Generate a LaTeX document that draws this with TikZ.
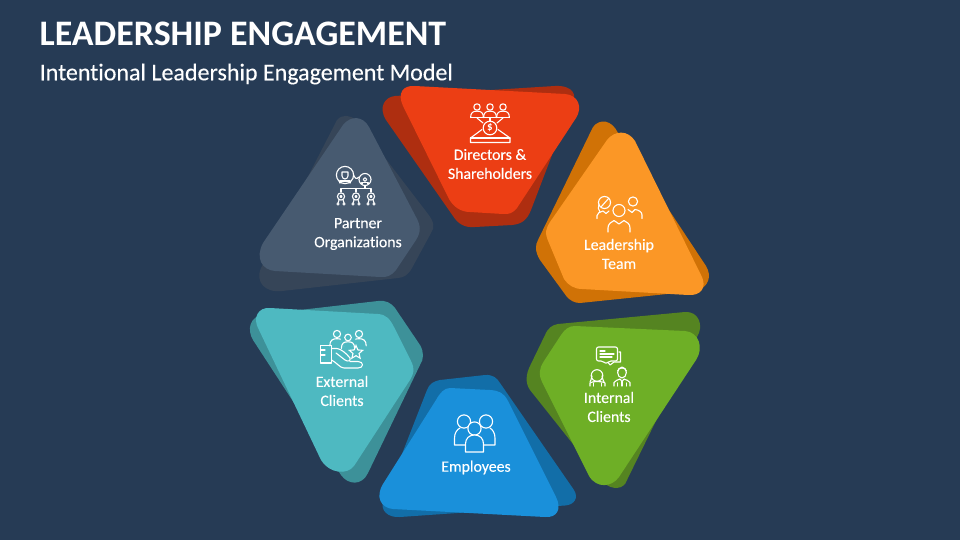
\documentclass[tikz,border=0pt]{standalone}
\usepackage{fontspec}
\setmainfont{Carlito}[Ligatures=CommonOff]
\newfontfamily\labelfont{Carlito}[Ligatures=CommonOff,FakeBold=0.2]
\usetikzlibrary{calc,positioning,shapes.geometric}

\definecolor{bgblue}{HTML}{263B55}
\definecolor{redfront}{HTML}{EC3E14}
\definecolor{redback}{HTML}{AE2E10}
\definecolor{orangefront}{HTML}{FB9726}
\definecolor{orangeback}{HTML}{D07206}
\definecolor{greenfront}{HTML}{6EAF26}
\definecolor{greenback}{HTML}{558421}
\definecolor{bluefront}{HTML}{1A90DA}
\definecolor{blueback}{HTML}{126EA8}
\definecolor{tealfront}{HTML}{4EB9C1}
\definecolor{tealback}{HTML}{3D9199}
\definecolor{grayfront}{HTML}{475A70}
\definecolor{grayback}{HTML}{364558}

\tikzset{
  petal_label/.style={text=white,align=center,inner sep=0pt,font=\fontsize{15.8}{19}\selectfont\labelfont},
  iconline/.style={draw=white,line width=1.1pt,line join=round,line cap=round},
  bust/.pic={
    \draw[iconline] (0,0) circle (1);
    \draw[iconline] (-2,3.3) .. controls (-2,1.7) and (-1.2,1.3) .. (0,1.3) .. controls (1.2,1.3) and (2,1.7) .. (2,3.3);
  },
}

\begin{document}
\begin{tikzpicture}[x=1pt,y=-1pt]

  \useasboundingbox (0,0) rectangle (960,540);
  \fill[bgblue] (0,0) rectangle (960,540);

  \node [anchor=west,text=white,inner sep=0pt,font=\fontsize{35.9}{38}\selectfont\bfseries] at (39.5,34) (title) {LEADERSHIP ENGAGEMENT};
  \node [anchor=west,text=white,inner sep=0pt,font=\fontsize{24}{26}\selectfont\labelfont] at (39.5,74) (subtitle) {Intentional Leadership Engagement Model};

  % back shapes
  \fill[redback] (395,96) -- (555,86) .. controls (572,85) and (580,95) .. (570,108) -- (531,210) .. controls (527,220) and (522,224) .. (512,225) -- (475,227) .. controls (465,228) and (458,224) .. (453,216) -- (386,120) .. controls (378,107) and (385,97) .. (395,96) -- cycle;
  \fill[orangeback] (593,127) .. controls (600,118) and (612,120) .. (618,133) -- (706,266) .. controls (712,276) and (709,287) .. (696,291) -- (580,303) .. controls (574,303) and (570,300) .. (567,297) -- (540,260) .. controls (535,252) and (535,245) .. (538,240) -- cycle;
  \fill[greenback] (558,324) -- (685,312) .. controls (699,311) and (704,326) .. (697,337) -- (627,480) .. controls (624,490) and (612,490) .. (604,483) -- (530,390) .. controls (525,383) and (526,374) .. (530,366) -- (545,335) .. controls (548,328) and (552,325) .. (558,324) -- cycle;
  \fill[blueback] (440,380) -- (485,375) .. controls (493,374.5) and (497,378) .. (500,383) -- (574,490) .. controls (579,498) and (574,505) .. (565,505.5) -- (400,517) .. controls (388,518) and (379,510) .. (384,500) -- (427,390) .. controls (429,384) and (434,381) .. (440,380) -- cycle;
  \fill[tealback] (265,314) -- (378,301) .. controls (386,300) and (391,303) .. (395,308) -- (420,345) .. controls (424,352) and (424,359) .. (420,365) -- (368,473) .. controls (362,486) and (348,485) .. (341,475) -- (253,340) .. controls (247,330) and (249,316) .. (265,314) -- cycle;
  \fill[grayback] (337,120) .. controls (342,114) and (350,115) .. (356,120) -- (428,214) .. controls (434,222) and (435,227) .. (431,233) -- (412,268) .. controls (408,275) and (404,277.5) .. (398,278) -- (282,291) .. controls (265,293) and (255,282) .. (261,268) -- cycle;

  % front shapes
  \fill[redfront] (415,86) -- (565,94) .. controls (578,95) and (583,107) .. (576,118) -- (517,208) .. controls (513,213) and (509,214.5) .. (503,214) -- (470,212) .. controls (460,212) and (453,206) .. (449,199) -- (403,106) .. controls (397,93) and (403,85) .. (415,86) -- cycle;
  \fill[orangefront] (607,140) .. controls (615,130) and (628,130) .. (635,141) -- (701,275) .. controls (708,288) and (700,296) .. (688,295) -- (582,289) .. controls (574,289) and (568,285) .. (564,279) -- (549,243) .. controls (544,232) and (546,229) .. (550,222) -- cycle;
  \fill[greenfront] (575,326) -- (685,331) .. controls (699,332) and (704,348) .. (696,360) -- (619,477) .. controls (612,487) and (597,489) .. (589,476) -- (543,384) .. controls (538,374) and (539,369) .. (544,361) -- (561,335) .. controls (565,329) and (569,326) .. (575,326) -- cycle;
  \fill[bluefront] (450,388) -- (490,390) .. controls (499,390.5) and (504,393) .. (508,401) -- (556,497) .. controls (562,509) and (557,518) .. (545,517) -- (393,509) .. controls (381,508) and (375,497) .. (383,484) -- (436,400) .. controls (440,393) and (444,388) .. (450,388) -- cycle;
  \fill[tealfront] (270,308) -- (378,314) .. controls (386,314.5) and (390,319) .. (394,327) -- (411,361) .. controls (415,369) and (414,373) .. (410,380) -- (354,466) .. controls (347,475) and (330,474) .. (321,460) -- (259,330) .. controls (252,318) and (258,307) .. (270,308) -- cycle;
  \fill[grayfront] (343,125) .. controls (351,115) and (363,116) .. (369,127) -- (416,217) .. controls (421,226) and (421,232) .. (416,240) -- (396,270) .. controls (391,276) and (387,277.5) .. (380,277) -- (275,271) .. controls (262,270) and (255,258) .. (263,243) -- cycle;

  % labels
  \node [petal_label] at (490,164) (label_directors) {Directors \&\\Shareholders};
  \node [petal_label] at (619,254) (label_leadership) {Leadership\\Team};
  \node [petal_label] at (358,234) (label_partner) {Partner\\Organizations};
  \node [petal_label] at (342,391) (label_external) {External\\Clients};
  \node [petal_label] at (476,467.5) (label_employees) {Employees};
  \node [petal_label] at (609,407) (label_internal) {Internal\\Clients};

  % directors icon
  \foreach \hx in {477,490,503} {
    \pic[scale=3.2] at (\hx,107) {bust};
    \draw[iconline] (\hx-6.4,117.5) -- (\hx+6.4,117.5);
  }
  \draw[iconline] (477,118) -- (483,123);
  \draw[iconline] (490,118) -- (490,121);
  \draw[iconline] (503,118) -- (497,123);
  \draw[iconline] (490,128) circle (6.8);
  \node [text=white,inner sep=0pt,font=\fontsize{11}{11}\selectfont\bfseries] at (490,128) (coin_sign) {\$};
  \draw[iconline] (482,129.5) -- (470.5,138) -- (470.5,142.5) -- (510,142.5) -- (510,138) -- (498,129.5);
  \draw[iconline] (470.5,138) -- (510,138);

  % leadership icon
  \draw[iconline] (619,210.5) circle (6);
  \draw[iconline] (608,232) -- (608,228) .. controls (608,224) and (611,222) .. (614,220.5) -- (619,224) -- (624,220.5) .. controls (627,222) and (630,224) .. (630,228) -- (630,232);
  \draw[iconline] (604.5,202.5) circle (6);
  \draw[iconline] (599,204) .. controls (598,207) and (598,210) .. (600,212);
  \draw[iconline] (601,207) -- (609,198);
  \draw[iconline] (597,218.5) -- (597,215.5) .. controls (597,213) and (600,212) .. (603,211) -- (606,213.5) -- (609,211);
  \draw[iconline] (633,201.5) circle (4.6);
  \draw[iconline] (628,209.5) -- (632,212.5) -- (635,209.5) .. controls (639,210) and (642,212) .. (642,215) -- (642,218.5);

  % partner icon
  \draw[iconline] (345,175) circle (8.6);
  \draw[iconline] (365,179.5) circle (6);
  \draw[iconline] (342,172) -- (348,172) -- (348,176) .. controls (348,178) and (346,179) .. (345,179) .. controls (344,179) and (342,178) .. (342,176) -- cycle;
  \draw[iconline] (340,183) -- (340,181) -- (350,181) -- (350,183);
  \draw[iconline] (353.5,175) .. controls (355,178) and (356,180) .. (359,177);
  \draw[iconline] (365,179.5) circle (1.8);
  \draw[iconline] (362,184) -- (362,182.5) -- (368,182.5) -- (368,184);
  \draw[iconline] (365,185.5) -- (365,188.5) -- (341,188.5) -- (341,192);
  \draw[iconline] (356,188.5) -- (356,192);
  \draw[iconline] (365,188.5) -- (371,188.5) -- (371,192);
  \foreach \px in {341,356,371} {
    \draw[iconline] (\px,196.5) circle (3.6);
    \draw[iconline] (\px,196.5) circle (1);
    \draw[iconline] (\px-2,200) -- (\px-3,203);
    \draw[iconline] (\px+2,200) -- (\px+3,203);
    \draw[iconline,line width=0.8pt] (\px-3,204) circle (1.2);
    \draw[iconline,line width=0.8pt] (\px+3,204) circle (1.2);
  }

  % external icon
  \foreach \px/\py in {337/334,359/334} {
    \pic[scale=3.6] at (\px,\py) {bust};
  }
  \fill[tealfront] (348,340) circle (7.5);
  \pic[scale=3.3] at (348,337.5) {bust};
  \node [draw=white,line width=1.1pt,fill=tealfront,star,star points=5,star point ratio=2.2,minimum size=14pt,inner sep=0pt] at (356,352.5) (ext_star) {};
  \draw[iconline] (320.5,345.5) rectangle (331.5,363);
  \draw[iconline] (320.5,350) -- (325,350);
  \draw[iconline] (320.5,355) -- (325,355);
  \draw[iconline] (331.5,348.5) -- (337,348.5) .. controls (341,349) and (346,353) .. (350,358) .. controls (351,361) and (348,362) .. (345,360) -- (336,353);
  \draw[iconline] (350,361.5) -- (358,361.5) .. controls (364,361.5) and (364,368) .. (358,368) -- (344,368) .. controls (340,368) and (336,362) .. (331.5,360);

  % employees icon
  \draw[iconline] (464,421.5) circle (6.6);
  \draw[iconline] (486,421.5) circle (6.6);
  \draw[iconline] (471,445) -- (454.5,445) -- (454.5,438) .. controls (454.5,433) and (457,429.5) .. (460,428);
  \draw[iconline] (479,445) -- (495,445) -- (495,438) .. controls (495,433) and (492.5,429.5) .. (490,428);
  \fill[bluefront] (474.5,428.5) circle (6.8);
  \draw[iconline] (474.5,428.5) circle (6.6);
  \draw[iconline,fill=bluefront] (465.5,452) -- (465.5,444) .. controls (465.5,438.5) and (469,435) .. (474.5,435) .. controls (480,435) and (483.5,438.5) .. (483.5,444) -- (483.5,452) -- cycle;

  % internal icon
  \draw[iconline] (619,352) -- (620.5,352) -- (620.5,362) -- (614,362) -- (610,365) -- (607,361);
  \draw[iconline,fill=greenfront,rounded corners=2pt] (596.5,347) -- (617.5,347) -- (617.5,361) -- (609,361) -- (606,364) -- (603,361) -- (596.5,361) -- cycle;
  \draw[iconline] (600,351) -- (605,351);
  \draw[iconline] (600,354) -- (614,354);
  \draw[iconline] (600,357) -- (612,357);
  \draw[iconline] (597,375.5) circle (5.8);
  \draw[iconline] (592,376) .. controls (591,379) and (591,381) .. (590,382);
  \draw[iconline] (602,376) .. controls (603,379) and (603,381) .. (604,382);
  \draw[iconline] (590,386) -- (590,383) .. controls (591,382) and (594,381.5) .. (597,381.5) .. controls (600,381.5) and (604,382) .. (605,383) -- (605,386);
  \draw[iconline] (593.5,386) -- (593.5,383);
  \draw[iconline] (601.5,386) -- (601.5,383);
  \draw[iconline] (622,372.5) ellipse (4.4 and 5.4);
  \draw[iconline] (617.5,371) .. controls (619,367) and (625,367) .. (626.5,371);
  \draw[iconline] (614,386) -- (614,382.5) .. controls (615,380.5) and (618,380) .. (620,379) -- (622,381.5) -- (624,379) .. controls (626,380) and (629,380.5) .. (630,382.5) -- (630,386);
  \draw[iconline] (622,381.5) -- (622,386);
  \draw[iconline] (617.5,386) -- (617.5,383);
  \draw[iconline] (626.5,386) -- (626.5,383);

\end{tikzpicture}
\end{document}
